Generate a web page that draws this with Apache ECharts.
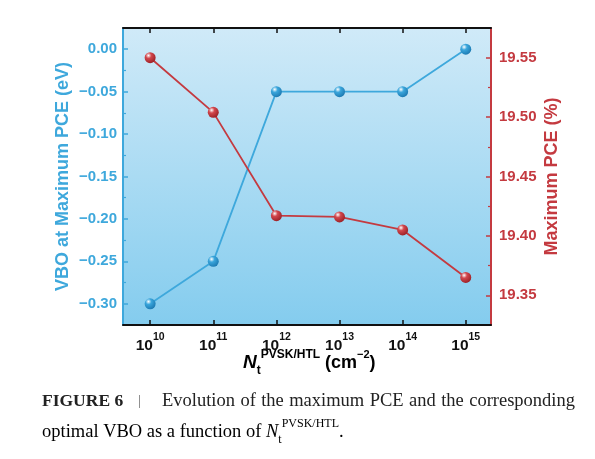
<!DOCTYPE html>
<html>
<head>
    <meta charset="utf-8" />
    <title></title>
    <script src="https://cdn.jsdelivr.net/npm/echarts@6/dist/echarts.min.js" type="text/javascript"></script>
    <style>
        html,body{
    width: 100%;
    height: 100%;
    margin: 0px;
    padding: 0px;
    background: #fff;
  }
  #main{
    width: 595px;
    height: 459px;
  }
  </style>
</head>
<body>
    <div id="main"></div>
</body>
<script type="text/javascript">
    // exponents of N_t (10^x cm^-2)
    var exponents = [10, 11, 12, 13, 14, 15];
    var vbo = [-0.30, -0.25, -0.05, -0.05, -0.05, 0.00];
    var pce = [19.550, 19.504, 19.417, 19.416, 19.405, 19.365];
    var vboTicks = [-0.30, -0.25, -0.20, -0.15, -0.10, -0.05, 0.00];
    var vboMinor = [-0.275, -0.225, -0.175, -0.125, -0.075, -0.025];
    var pceTicks = [19.35, 19.40, 19.45, 19.50, 19.55];
    var pceMinor = [19.375, 19.425, 19.475, 19.525];
    var captionWords = 'Evolution of the maximum PCE and the corresponding'.split(' ');

    var BLUE = '#3ea8dc';
    var RED = '#c43a40';
    var SERIF = 'Liberation Serif';
    var CAP = 18.5;

    function pair(xs, ys) {
        return xs.map(function (x, i) { return [x, ys[i]]; });
    }
    function sphere(c, dark) {
        return new echarts.graphic.RadialGradient(0.35, 0.3, 0.75, [
            { offset: 0, color: '#ffffff' },
            { offset: 0.35, color: c },
            { offset: 1, color: dark }
        ]);
    }
    function minus(v, d) {
        var s = Math.abs(v).toFixed(d);
        return v < -1e-9 ? '\u2212' + s : s;
    }

    // justified first caption line: spread words between x0 and x1
    var ctx = document.createElement('canvas').getContext('2d');
    ctx.font = CAP + 'px "' + SERIF + '"';
    function captionLine(x0, x1, y) {
        var widths = captionWords.map(function (w) { return ctx.measureText(w).width; });
        var total = widths.reduce(function (a, b) { return a + b; }, 0);
        var gap = (x1 - x0 - total) / (captionWords.length - 1);
        var x = x0, out = [];
        captionWords.forEach(function (w, i) {
            out.push({
                type: 'text', left: x, top: y,
                style: { text: w, fontSize: CAP, fontFamily: SERIF, fill: '#222' }
            });
            x += widths[i] + gap;
        });
        return out;
    }

    var myChart = echarts.init(document.getElementById('main'));
    var grid = { left: 123, top: 28, right: 104, bottom: 134 };

    var graphics = [{
        type: 'text', left: 243, top: 349,
        style: {
            text: '{n|N}{t|t}{p|PVSK/HTL}{u| (cm}{e|\u22122}{u|)}',
            rich: {
                n: { fontSize: 19, fontWeight: 'bold', fontStyle: 'italic', fontFamily: 'Arial', color: '#111', lineHeight: 28, verticalAlign: 'middle' },
                t: { fontSize: 12, fontWeight: 'bold', fontFamily: 'Arial', color: '#111', verticalAlign: 'bottom' },
                p: { fontSize: 12, fontWeight: 'bold', fontFamily: 'Arial', color: '#111', verticalAlign: 'top' },
                u: { fontSize: 18, fontWeight: 'bold', fontFamily: 'Arial', color: '#111', verticalAlign: 'middle' },
                e: { fontSize: 11, fontWeight: 'bold', fontFamily: 'Arial', color: '#111', verticalAlign: 'top' }
            }
        }
    }, {
        type: 'text', left: 42, top: 392,
        style: { text: 'FIGURE 6', fontSize: 17.5, fontWeight: 'bold', fontFamily: SERIF, fill: '#222' }
    }, {
        type: 'text', left: 138, top: 394,
        style: { text: '|', fontSize: 14, fontFamily: SERIF, fill: '#666' }
    }, {
        type: 'text', left: 42, top: 418,
        style: {
            text: '{c|optimal VBO as a function of }{n|N}{t|t}{p|PVSK/HTL}{c|.}',
            rich: {
                c: { fontSize: CAP, fontFamily: SERIF, color: '#222', lineHeight: 28, verticalAlign: 'middle' },
                n: { fontSize: CAP, fontStyle: 'italic', fontFamily: SERIF, color: '#222', verticalAlign: 'middle' },
                t: { fontSize: 12, fontFamily: SERIF, color: '#222', verticalAlign: 'bottom' },
                p: { fontSize: 12, fontFamily: SERIF, color: '#222', verticalAlign: 'top' }
            }
        }
    }].concat(captionLine(162, 575, 392));

    myChart.setOption({
        animation: false,
        grid: {
            left: grid.left, top: grid.top, right: grid.right, bottom: grid.bottom,
            show: true, borderWidth: 0,
            backgroundColor: new echarts.graphic.LinearGradient(0, 0, 0, 1, [
                { offset: 0, color: '#d0eaf8' },
                { offset: 1, color: '#84ccee' }
            ])
        },
        xAxis: [{
            type: 'value', min: 9.57, max: 15.4,
            splitLine: { show: false },
            axisLine: { onZero: false, lineStyle: { color: '#111', width: 2 } },
            axisTick: { inside: true, length: 5, customValues: exponents, lineStyle: { color: '#111', width: 1.5 } },
            axisLabel: {
                customValues: exponents, margin: 7,
                formatter: function (v) { return '{b|10}{s|' + Math.round(v) + '}'; },
                rich: {
                    b: { fontSize: 15.5, fontWeight: 'bold', color: '#111', fontFamily: 'Arial', lineHeight: 22, verticalAlign: 'bottom' },
                    s: { fontSize: 10.5, fontWeight: 'bold', color: '#111', fontFamily: 'Arial', verticalAlign: 'top' }
                }
            }
        }, {
            type: 'value', min: 9.57, max: 15.4, position: 'top',
            splitLine: { show: false },
            axisLine: { onZero: false, lineStyle: { color: '#111', width: 2 } },
            axisTick: { inside: true, length: 5, customValues: exponents, lineStyle: { color: '#111', width: 1.5 } },
            axisLabel: { show: false }
        }],
        yAxis: [{
            type: 'value', min: -0.325, max: 0.025, position: 'left',
            splitLine: { show: false },
            name: 'VBO at Maximum PCE (eV)', nameLocation: 'middle', nameGap: 51, nameRotate: 90,
            nameMoveOverlap: false,
            nameTextStyle: { color: BLUE, fontSize: 18, fontWeight: 'bold', fontFamily: 'Arial' },
            axisLine: { onZero: false, lineStyle: { color: BLUE, width: 2 } },
            axisTick: { inside: true, length: 5, customValues: vboTicks, lineStyle: { color: BLUE, width: 1.5 } },
            axisLabel: {
                customValues: vboTicks, margin: 6,
                color: BLUE, fontSize: 15, fontWeight: 'bold', fontFamily: 'Arial',
                formatter: function (v) { return minus(v, 2); }
            }
        }, {
            type: 'value', min: 19.325, max: 19.575, position: 'right',
            splitLine: { show: false },
            name: 'Maximum PCE (%)', nameLocation: 'middle', nameGap: 52, nameRotate: 90,
            nameMoveOverlap: false,
            nameTextStyle: { color: RED, fontSize: 18, fontWeight: 'bold', fontFamily: 'Arial' },
            axisLine: { onZero: false, lineStyle: { color: RED, width: 2 } },
            axisTick: { inside: true, length: 5, customValues: pceTicks, lineStyle: { color: RED, width: 1.5 } },
            axisLabel: {
                customValues: pceTicks, margin: 8,
                color: RED, fontSize: 15, fontWeight: 'bold', fontFamily: 'Arial',
                formatter: function (v) { return v.toFixed(2); }
            }
        }, {
            // minor ticks, left
            type: 'value', min: -0.325, max: 0.025, position: 'left',
            splitLine: { show: false }, axisLine: { show: false }, axisLabel: { show: false },
            axisTick: { inside: true, length: 3, customValues: vboMinor, lineStyle: { color: BLUE, width: 1.2 } }
        }, {
            // minor ticks, right
            type: 'value', min: 19.325, max: 19.575, position: 'right',
            splitLine: { show: false }, axisLine: { show: false }, axisLabel: { show: false },
            axisTick: { inside: true, length: 3, customValues: pceMinor, lineStyle: { color: RED, width: 1.2 } }
        }],
        graphic: graphics,
        series: [{
            name: 'VBO', type: 'line', xAxisIndex: 0, yAxisIndex: 0,
            data: pair(exponents, vbo),
            symbol: 'circle', symbolSize: 11,
            lineStyle: { color: BLUE, width: 1.8 },
            itemStyle: { color: sphere('#3aa6dc', '#1b78b0') }
        }, {
            name: 'PCE', type: 'line', xAxisIndex: 0, yAxisIndex: 1,
            data: pair(exponents, pce),
            symbol: 'circle', symbolSize: 11,
            lineStyle: { color: RED, width: 1.8 },
            itemStyle: { color: sphere('#d2474d', '#9a1f25') }
        }]
    });

    window.addEventListener('resize', function () {
        myChart.resize();
    });
</script>
</html>
